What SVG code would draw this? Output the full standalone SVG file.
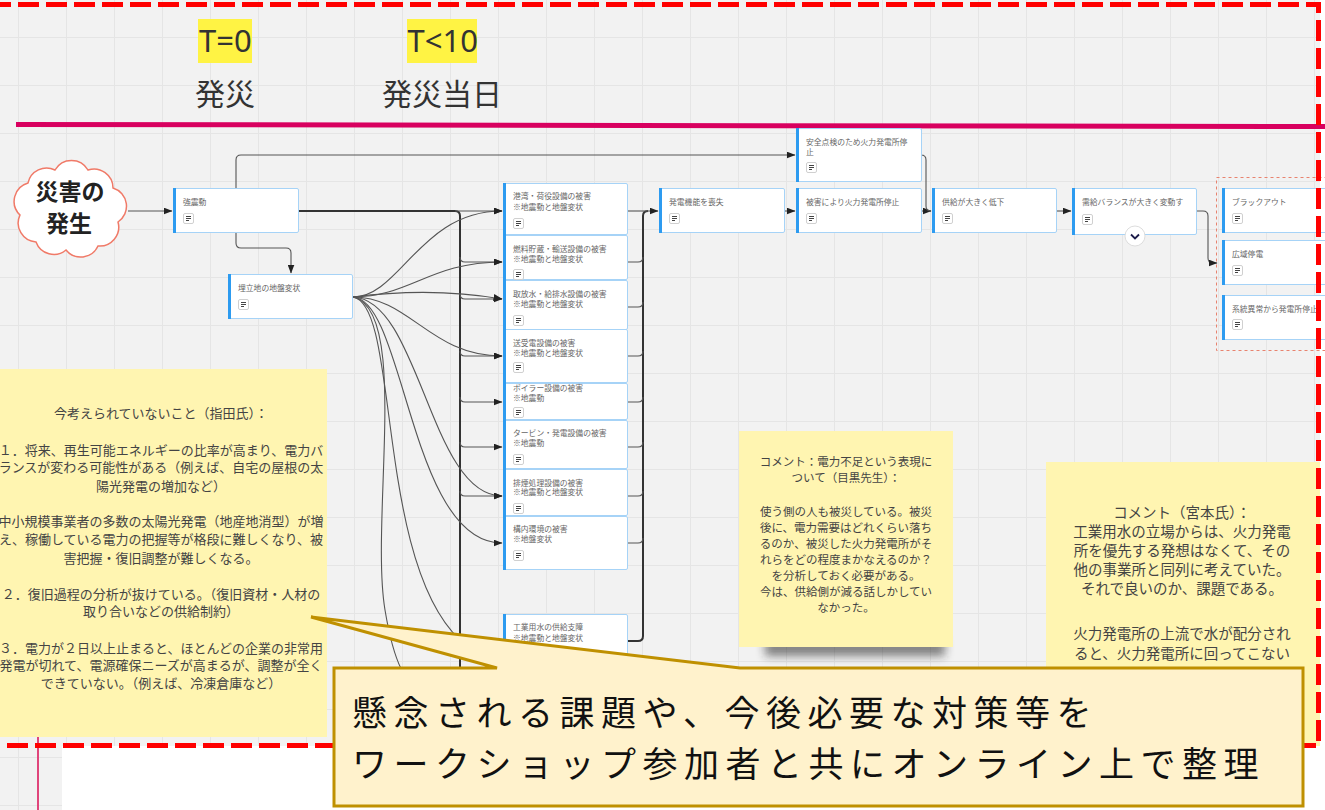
<svg xmlns="http://www.w3.org/2000/svg" xmlns:xlink="http://www.w3.org/1999/xlink" width="1325" height="810" viewBox="0 0 1325 810">
<style>
.jp{font-family:"Noto Sans CJK JP","Noto Sans",sans-serif}
.nbox{fill:#ffffff;stroke:#a6d3f7;stroke-width:1}
.nbar{fill:#2d9bf0}
.ntx{font-family:"Noto Sans CJK JP","Noto Sans",sans-serif;font-size:7.8px;fill:#666}
.c{fill:none;stroke:#555;stroke-width:1.1}
.ca{fill:none;stroke:#555;stroke-width:1.1;marker-end:url(#ah)}
.cb{fill:none;stroke:#333;stroke-width:2}
.st{font-family:"Noto Sans CJK JP","Noto Sans",sans-serif;fill:#444;text-anchor:middle}
</style>
<defs>
<pattern id="grid" width="48" height="48" patternUnits="userSpaceOnUse" x="18" y="37">
<path d="M0,0.5 H48 M0.5,0 V48" stroke="#e5e5e5" stroke-width="1" fill="none"/>
</pattern>
<marker id="ah" markerWidth="9" markerHeight="7" refX="8.5" refY="3.5" orient="auto" markerUnits="userSpaceOnUse">
<path d="M0,0 L9,3.5 L0,7 Z" fill="#222"/>
</marker>
<symbol id="note" viewBox="0 0 11 11" width="11" height="11">
<rect x="0.5" y="0.5" width="10" height="10" rx="1.5" fill="#fff" stroke="#d0d0d0"/>
<path d="M3,3.5 H8 M3,5.5 H8 M3,7.5 H6" stroke="#444" stroke-width="1.1"/>
</symbol>
<filter id="blur" x="-30%" y="-100%" width="160%" height="300%"><feGaussianBlur stdDeviation="5"/></filter>
</defs>

<!-- background -->
<rect x="0" y="0" width="1325" height="810" fill="#ffffff"/>
<rect x="0" y="0" width="1320" height="746" fill="#f2f2f2"/>
<rect x="0" y="746" width="62" height="64" fill="#f2f2f2"/>
<rect x="0" y="0" width="1320" height="746" fill="url(#grid)"/>
<rect x="0" y="746" width="62" height="64" fill="url(#grid)"/>
<line x1="38" y1="735" x2="38" y2="810" stroke="#e0457b" stroke-width="2"/>

<!-- timeline -->
<g id="timeline">
<line x1="16" y1="124.5" x2="1325" y2="126.5" stroke="#d8005f" stroke-width="5"/>
<rect x="198" y="19" width="54" height="44" fill="#fff344"/>
<text x="199" y="52" font-family="Noto Sans, sans-serif" font-size="31" fill="#333">T=0</text>
<rect x="407" y="19" width="70" height="44" fill="#fff344"/>
<text x="407.5" y="52" font-family="Noto Sans, sans-serif" font-size="31" fill="#333">T&lt;10</text>
<text x="225" y="105" class="jp" font-size="30" fill="#333" text-anchor="middle">発災</text>
<text x="442" y="105" class="jp" font-size="30" fill="#333" text-anchor="middle">発災当日</text>
</g>

<!-- connectors -->
<g id="connectors">
<path class="ca" d="M128,211 H172"/>
<path class="ca" d="M236,188 V160 Q236,155 241,155 H795"/>
<path class="ca" d="M236,233 V243 Q236,248 241,248 H286 Q291,248 291,253 V273"/>
<path class="cb" d="M299,211 H455 Q460,211 460,216 V760"/>
<path class="ca" d="M455,211 H502"/>
<path class="ca" d="M460,257 Q460,262 465,262 H502"/>
<path class="ca" d="M460,294 Q460,299 465,299 H502"/>
<path class="ca" d="M460,351 Q460,356 465,356 H502"/>
<path class="ca" d="M460,397 Q460,402 465,402 H502"/>
<path class="ca" d="M460,442 Q460,447 465,447 H502"/>
<path class="ca" d="M460,491 Q460,496 465,496 H502"/>
<path class="ca" d="M460,675 Q460,680 465,680 H502"/>
<path class="ca" d="M353,297 C400,297 420,211 502,211"/>
<path class="ca" d="M353,297 C410,297 430,262 502,262"/>
<path class="ca" d="M353,297 C400,291 450,290 502,299"/>
<path class="ca" d="M353,297 C410,297 430,356 502,356"/>
<path class="ca" d="M353,297 C420,300 430,496 502,496"/>
<path class="ca" d="M353,297 C405,300 410,543 502,543"/>
<path class="c" d="M353,297 C400,305 375,560 460,640 S490,690 502,700"/>
<path class="c" d="M353,297 C410,310 370,520 385,610 S420,680 440,720"/>
<path class="cb" d="M628,641 H638 Q643,641 643,636 V216 Q643,211 648,211"/>
<path class="ca" d="M628,211 H658"/>
<path class="c" d="M628,262 H638 Q643,262 643,257"/>
<path class="c" d="M628,307 H638 Q643,307 643,302"/>
<path class="c" d="M628,356 H638 Q643,356 643,351"/>
<path class="c" d="M628,402 H638 Q643,402 643,397"/>
<path class="c" d="M628,447 H638 Q643,447 643,442"/>
<path class="c" d="M628,496 H638 Q643,496 643,491"/>
<path class="c" d="M628,543 H638 Q643,543 643,538"/>
<path class="ca" d="M785,211 H795"/>
<path class="ca" d="M922,211 H931"/>
<path class="c" d="M922,155 H921 Q926,155 926,160 V206 Q926,211 931,211"/>
<path class="ca" d="M1057,211 H1071"/>
<path class="ca" d="M1197,211 H1203 Q1208,211 1208,216 V258 Q1208,263 1213,263 H1217"/>
</g>

<!-- nodes -->
<g id="n-kyoshindo">
<rect class="nbox" x="173.5" y="188.5" width="125" height="44" rx="1.5"/><rect class="nbar" x="173" y="188" width="3" height="45"/>
<text class="ntx" x="183" y="205">強震動</text><use href="#note" x="183" y="213"/>
</g>
<g id="n-umetate">
<rect class="nbox" x="228.5" y="274.5" width="124" height="44" rx="1.5"/><rect class="nbar" x="228" y="274" width="3" height="45"/>
<text class="ntx" x="238" y="291">埋立地の地盤変状</text><use href="#note" x="238" y="299"/>
</g>
<g id="n-kowan">
<rect class="nbox" x="503.5" y="183.5" width="124" height="51" rx="1.5"/><rect class="nbar" x="503" y="183" width="3" height="52"/>
<text class="ntx" x="513" y="199">港湾・荷役設備の被害</text><text class="ntx" x="513" y="209.5">※地震動と地盤変状</text><use href="#note" x="513" y="218"/>
</g>
<g id="n-nenryo">
<rect class="nbox" x="503.5" y="235.5" width="124" height="44" rx="1.5"/><rect class="nbar" x="503" y="235" width="3" height="45"/>
<text class="ntx" x="513" y="251.5">燃料貯蔵・輸送設備の被害</text><text class="ntx" x="513" y="261.5">※地震動と地盤変状</text><use href="#note" x="513" y="269"/>
</g>
<g id="n-shusui">
<rect class="nbox" x="503.5" y="280.5" width="124" height="49" rx="1.5"/><rect class="nbar" x="503" y="280" width="3" height="50"/>
<text class="ntx" x="513" y="296.5">取放水・給排水設備の被害</text><text class="ntx" x="513" y="307">※地震動と地盤変状</text><use href="#note" x="513" y="315"/>
</g>
<g id="n-sojuden">
<rect class="nbox" x="503.5" y="329.5" width="124" height="53" rx="1.5"/><rect class="nbar" x="503" y="329" width="3" height="54"/>
<text class="ntx" x="513" y="346">送受電設備の被害</text><text class="ntx" x="513" y="356">※地震動と地盤変状</text><use href="#note" x="513" y="362"/>
</g>
<g id="n-boiler">
<rect class="nbox" x="503.5" y="383.5" width="124" height="36" rx="1.5"/><rect class="nbar" x="503" y="383" width="3" height="37"/>
<text class="ntx" x="513" y="391">ボイラー設備の被害</text><text class="ntx" x="513" y="400.5">※地震動</text><use href="#note" x="513" y="407"/>
</g>
<g id="n-turbine">
<rect class="nbox" x="503.5" y="420.5" width="124" height="48" rx="1.5"/><rect class="nbar" x="503" y="420" width="3" height="49"/>
<text class="ntx" x="513" y="436">タービン・発電設備の被害</text><text class="ntx" x="513" y="446">※地震動</text><use href="#note" x="513" y="454"/>
</g>
<g id="n-haien">
<rect class="nbox" x="503.5" y="469.5" width="124" height="46" rx="1.5"/><rect class="nbar" x="503" y="469" width="3" height="47"/>
<text class="ntx" x="513" y="485.5">排煙処理設備の被害</text><text class="ntx" x="513" y="495">※地震動と地盤変状</text><use href="#note" x="513" y="503"/>
</g>
<g id="n-konai">
<rect class="nbox" x="503.5" y="516.5" width="124" height="53" rx="1.5"/><rect class="nbar" x="503" y="516" width="3" height="54"/>
<text class="ntx" x="513" y="532">構内環境の被害</text><text class="ntx" x="513" y="542">※地盤変状</text><use href="#note" x="513" y="550"/>
</g>
<g id="n-kogyoyosui">
<rect class="nbox" x="503.5" y="614.5" width="124" height="80" rx="1.5"/><rect class="nbar" x="503" y="614" width="3" height="81"/>
<text class="ntx" x="513" y="630">工業用水の供給支障</text><text class="ntx" x="513" y="640.5">※地震動と地盤変状</text>
</g>
<g id="n-hatsuden">
<rect class="nbox" x="659.5" y="188.5" width="125" height="44" rx="1.5"/><rect class="nbar" x="659" y="188" width="3" height="45"/>
<text class="ntx" x="669" y="205">発電機能を喪失</text><use href="#note" x="669" y="213"/>
</g>
<g id="n-anzen">
<rect class="nbox" x="796.5" y="128.5" width="125" height="53" rx="1.5"/><rect class="nbar" x="796" y="128" width="3" height="54"/>
<text class="ntx" x="806" y="144.5">安全点検のため火力発電所停</text><text class="ntx" x="806" y="154.5">止</text><use href="#note" x="806" y="162"/>
</g>
<g id="n-higai">
<rect class="nbox" x="796.5" y="188.5" width="125" height="44" rx="1.5"/><rect class="nbar" x="796" y="188" width="3" height="45"/>
<text class="ntx" x="806" y="205">被害により火力発電所停止</text><use href="#note" x="806" y="213"/>
</g>
<g id="n-kyokyu">
<rect class="nbox" x="932.5" y="188.5" width="124" height="44" rx="1.5"/><rect class="nbar" x="932" y="188" width="3" height="45"/>
<text class="ntx" x="942" y="205">供給が大きく低下</text><use href="#note" x="942" y="213"/>
</g>
<g id="n-jukyu">
<rect class="nbox" x="1072.5" y="188.5" width="124" height="46" rx="1.5"/><rect class="nbar" x="1072" y="188" width="3" height="47"/>
<text class="ntx" x="1082" y="205">需給バランスが大きく変動す</text><use href="#note" x="1082" y="214"/>
<circle cx="1135" cy="236" r="10" fill="#fff" stroke="#ddd"/>
<path d="M1131,234.5 L1135,238.5 L1139,234.5" fill="none" stroke="#1c1c4a" stroke-width="1.8"/>
</g>
<g id="group-outage">
<rect x="1216.5" y="177.5" width="115" height="173" fill="none" stroke="#e8836f" stroke-width="1" stroke-dasharray="3 3"/>
</g>
<g id="n-blackout">
<rect class="nbox" x="1222.5" y="188.5" width="110" height="44" rx="1.5"/><rect class="nbar" x="1222" y="188" width="3" height="45"/>
<text class="ntx" x="1232" y="205">ブラックアウト</text><use href="#note" x="1232" y="213"/>
</g>
<g id="n-koiki">
<rect class="nbox" x="1222.5" y="240.5" width="110" height="44" rx="1.5"/><rect class="nbar" x="1222" y="240" width="3" height="45"/>
<text class="ntx" x="1232" y="256.5">広域停電</text><use href="#note" x="1232" y="265"/>
</g>
<g id="n-keito">
<rect class="nbox" x="1222.5" y="295.5" width="110" height="44" rx="1.5"/><rect class="nbar" x="1222" y="295" width="3" height="45"/>
<text class="ntx" x="1232" y="311.5">系統異常から発電所停止</text><use href="#note" x="1232" y="319"/>
</g>

<!-- cloud -->
<g id="n-saigai">
<path d="M20,215 A19,19 0 0 1 28,183 A19,19 0 0 1 55,170 A19,19 0 0 1 88,170 A19,19 0 0 1 113,188 A19,19 0 0 1 118,222 A19,19 0 0 1 98,246 A19,19 0 0 1 66,250 A19,19 0 0 1 36,242 A19,19 0 0 1 20,215 Z" fill="#fff" stroke="#f07a68" stroke-width="1.5"/>
<text x="70" y="200" class="jp" font-size="23" font-weight="700" fill="#222" text-anchor="middle">災害の</text>
<text x="69" y="232" class="jp" font-size="23" font-weight="700" fill="#222" text-anchor="middle">発生</text>
</g>

<!-- middle sticky -->
<g id="sticky-meguro">
<rect x="765" y="640" width="180" height="16" fill="#222" opacity="0.55" filter="url(#blur)"/>
<rect x="739" y="431" width="214" height="216" fill="#fff5b1"/>
<text class="st" font-size="11.5"><tspan x="846" y="466">コメント：電力不足という表現に</tspan><tspan x="846" y="482">ついて（目黒先生）：</tspan><tspan x="846" y="516">使う側の人も被災している。被災</tspan><tspan x="846" y="532">後に、電力需要はどれくらい落ち</tspan><tspan x="846" y="548">るのか、被災した火力発電所がそ</tspan><tspan x="846" y="564">れらをどの程度まかなえるのか？</tspan><tspan x="846" y="580">を分析しておく必要がある。</tspan><tspan x="846" y="596">今は、供給側が減る話しかしてい</tspan><tspan x="846" y="612">なかった。</tspan></text>
</g>

<!-- right sticky -->
<g id="sticky-miyamoto">
<rect x="1046" y="462" width="274" height="284" fill="#fff5b1"/>
<text class="st" font-size="14.5"><tspan x="1182" y="518">コメント（宮本氏）：</tspan><tspan x="1182" y="537">工業用水の立場からは、火力発電</tspan><tspan x="1182" y="556">所を優先する発想はなくて、その</tspan><tspan x="1182" y="575">他の事業所と同列に考えていた。</tspan><tspan x="1182" y="594">それで良いのか、課題である。</tspan><tspan x="1182" y="639">火力発電所の上流で水が配分され</tspan><tspan x="1182" y="659">ると、火力発電所に回ってこない</tspan></text>
</g>

<!-- left sticky -->
<g id="sticky-sashida">
<rect x="-5" y="369" width="332" height="368" fill="#fff5b1"/>
<text class="st" font-size="13"><tspan x="161" y="417.5">今考えられていないこと（指田氏）：</tspan><tspan x="161" y="454.5">１．将来、再生可能エネルギーの比率が高まり、電力バ</tspan><tspan x="161" y="472">ランスが変わる可能性がある（例えば、自宅の屋根の太</tspan><tspan x="161" y="490.5">陽光発電の増加など）</tspan><tspan x="161" y="525.5">中小規模事業者の多数の太陽光発電（地産地消型）が増</tspan><tspan x="161" y="544">え、稼働している電力の把握等が格段に難しくなり、被</tspan><tspan x="161" y="562.5">害把握・復旧調整が難しくなる。</tspan><tspan x="161" y="598.5">２．復旧過程の分析が抜けている。（復旧資材・人材の</tspan><tspan x="161" y="615.5">取り合いなどの供給制約）</tspan><tspan x="161" y="652.5">３．電力が２日以上止まると、ほとんどの企業の非常用</tspan><tspan x="161" y="670">発電が切れて、電源確保ニーズが高まるが、調整が全く</tspan><tspan x="161" y="688">できていない。（例えば、冷凍倉庫など）</tspan></text>
</g>

<!-- frame -->
<g id="frame">
<path d="M-10,4.5 H1318.5 V745.5 H-10" fill="none" stroke="#ff0000" stroke-width="5" stroke-dasharray="21 7"/>
</g>

<!-- callout -->
<g id="callout">
<path d="M334,668 H497 L311,617 L740,668 H1303 V806 H334 Z" fill="#fff2cc" stroke="#bf9000" stroke-width="3" stroke-linejoin="miter"/>
<text class="jp" font-size="35" fill="#111" letter-spacing="6.5"><tspan x="352" y="726">懸念される課題や、今後必要な対策等を</tspan><tspan x="352" y="777">ワークショップ参加者と共にオンライン上で整理</tspan></text>
</g>
</svg>
